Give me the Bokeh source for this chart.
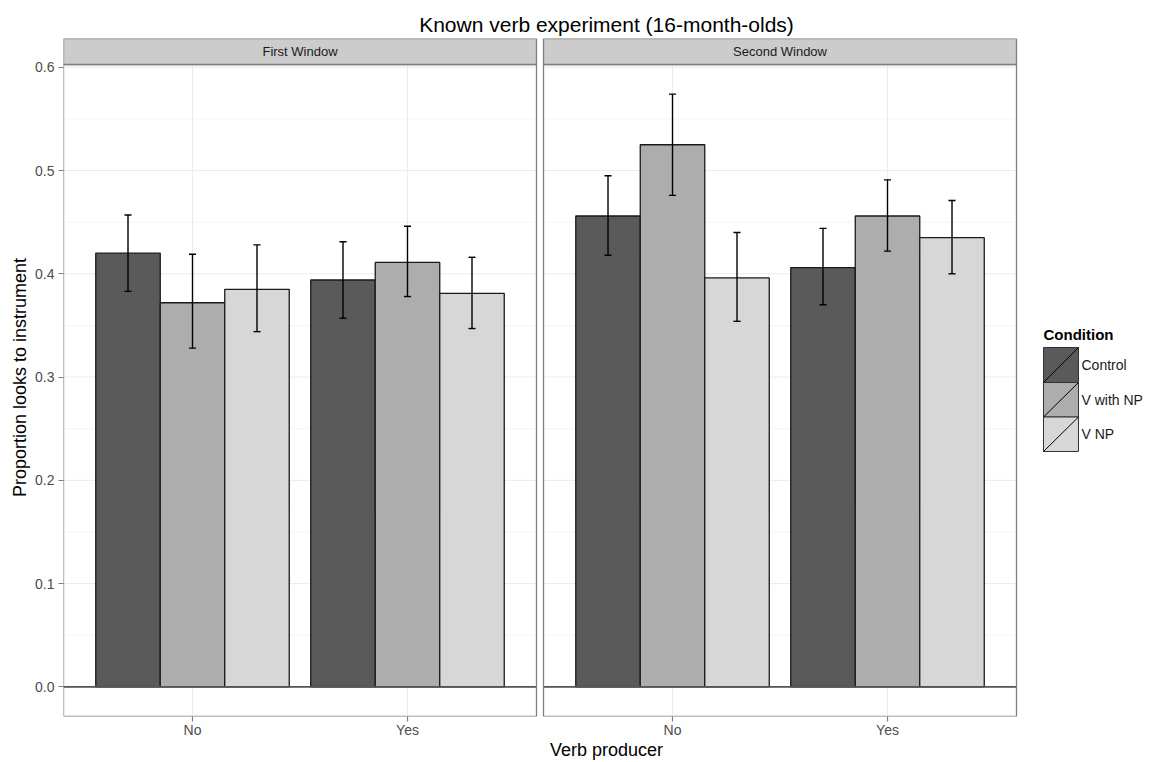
from bokeh.plotting import figure
from bokeh.models import Range1d, FixedTicker, ColumnDataSource, NumeralTickFormatter
from bokeh.core.properties import value
from bokeh.embed import file_html
from bokeh.resources import INLINE

# ---------------- data ----------------
windows = ["First Window", "Second Window"]
producers = ["No", "Yes"]
conditions = ["Control", "V with NP", "V NP"]
fill_colors = ["#5a5a5a", "#adadad", "#d7d7d7"]

# order of values: First-No, First-Yes, Second-No, Second-Yes
control_mean = [0.420, 0.394, 0.456, 0.406]
control_lo = [0.383, 0.357, 0.418, 0.370]
control_hi = [0.457, 0.431, 0.495, 0.444]
vwnp_mean = [0.372, 0.411, 0.525, 0.456]
vwnp_lo = [0.328, 0.378, 0.476, 0.422]
vwnp_hi = [0.419, 0.446, 0.574, 0.491]
vnp_mean = [0.385, 0.381, 0.396, 0.435]
vnp_lo = [0.344, 0.347, 0.354, 0.400]
vnp_hi = [0.428, 0.416, 0.440, 0.471]

y_ticks = [0.0, 0.1, 0.2, 0.3, 0.4, 0.5, 0.6]
y_minor = [0.05, 0.15, 0.25, 0.35, 0.45, 0.55]

means = [control_mean, vwnp_mean, vnp_mean]
los = [control_lo, vwnp_lo, vnp_lo]
his = [control_hi, vwnp_hi, vnp_hi]

# ---------------- geometry ----------------
W, H = 1149, 762
FL, FR, FT, FB = 63, 1149, 38, 716      # frame edges in px
PXX = 215.0                              # px per x unit
X0 = 0.4
PANEL_UNITS = 2.2
OFF = round(PANEL_UNITS + 7 / PXX, 4)    # x offset of second panel
YMIN, YMAX = -0.0287, 0.6027             # panel limits
PANEL_TOP_PX = 64
PXY = (FB - PANEL_TOP_PX) / (YMAX - YMIN)
Y_TOP = YMAX + (PANEL_TOP_PX - FT) / PXY
X_END = X0 + (FR - FL) / PXX


def px2x(px):
    return X0 + (px - FL) / PXX


def px2y(py):
    return YMIN + (FB - py) / PXY


FONT = "Liberation Sans"
BAR_W = 0.3
DODGE = 0.3

p = figure(width=W, height=H, output_backend="svg", toolbar_location=None,
           x_range=Range1d(X0, X_END), y_range=Range1d(YMIN, Y_TOP),
           min_border_left=FL, min_border_right=W - FR, min_border_top=FT,
           min_border_bottom=H - FB)
p.outline_line_color = None
p.xgrid.visible = False
p.ygrid.visible = False
p.background_fill_color = "white"
p.border_fill_color = "white"

# title
p.title.text = "Known verb experiment (16-month-olds)"
p.title.align = "center"
p.title.text_font = FONT
p.title.text_font_size = "21px"
p.title.text_font_style = "normal"
p.title.text_color = "black"
p.title.standoff = 6

panel_left = [X0 + k * OFF for k in range(2)]
panel_right = [X0 + PANEL_UNITS + k * OFF for k in range(2)]

# panel backgrounds
p.quad(left=panel_left, right=panel_right, bottom=[YMIN] * 2, top=[YMAX] * 2,
       fill_color="white", line_color=None)

# grid lines
for k in range(2):
    L, R = panel_left[k], panel_right[k]
    p.segment(x0=[L] * len(y_minor), x1=[R] * len(y_minor), y0=y_minor, y1=y_minor,
              line_color="#f4f4f4", line_width=1)
    p.segment(x0=[L] * len(y_ticks), x1=[R] * len(y_ticks), y0=y_ticks, y1=y_ticks,
              line_color="#ebebeb", line_width=1)
    xs = [k * OFF + j + 1 for j in range(len(producers))]
    p.segment(x0=xs, x1=xs, y0=[YMIN] * len(xs), y1=[YMAX] * len(xs),
              line_color="#ebebeb", line_width=1)

# bars
for c, cond in enumerate(conditions):
    xs, tops, lo, hi = [], [], [], []
    for k in range(2):
        for j in range(2):
            idx = k * 2 + j
            xs.append(k * OFF + (j + 1) + (c - 1) * DODGE)
            tops.append(means[c][idx])
            lo.append(los[c][idx])
            hi.append(his[c][idx])
    src = ColumnDataSource(dict(x=xs, top=tops, lo=lo, hi=hi,
                                cl=[x - 0.0165 for x in xs], cr=[x + 0.0165 for x in xs]))
    p.vbar(x="x", top="top", bottom=0, width=BAR_W, source=src,
           fill_color=fill_colors[c], line_color="#1a1a1a", line_width=1.3)
    p.segment(x0="x", x1="x", y0="lo", y1="hi", source=src, line_color="black", line_width=1.4)
    p.segment(x0="cl", x1="cr", y0="lo", y1="lo", source=src, line_color="black", line_width=1.4)
    p.segment(x0="cl", x1="cr", y0="hi", y1="hi", source=src, line_color="black", line_width=1.4)

# zero line
p.segment(x0=panel_left, x1=panel_right, y0=[0, 0], y1=[0, 0], line_color="#555555", line_width=1.8)

# panel borders
p.quad(left=panel_left, right=panel_right, bottom=[YMIN] * 2, top=[YMAX] * 2,
       fill_color=None, line_color="#808080", line_width=1.3)

# strips
p.quad(left=panel_left, right=panel_right, bottom=[YMAX] * 2, top=[Y_TOP] * 2,
       fill_color="#cccccc", line_color="#808080", line_width=1.3)
p.text(x=[(panel_left[k] + panel_right[k]) / 2 for k in range(2)],
       y=[(YMAX + Y_TOP) / 2] * 2, text=windows,
       text_font=value(FONT), text_font_size="13px", text_color="#1a1a1a",
       text_align="center", text_baseline="middle")

# legend (manual, keys with diagonal stroke)
key_l, key_r = px2x(1043), px2x(1078)
key_edges = [347, 382, 416.5, 451]
kb = [px2y(key_edges[i + 1]) for i in range(3)]
kt = [px2y(key_edges[i]) for i in range(3)]
p.quad(left=[key_l] * 3, right=[key_r] * 3, bottom=kb, top=kt,
       fill_color=fill_colors, line_color="#333333", line_width=1)
p.segment(x0=[key_l] * 3, x1=[key_r] * 3, y0=kb, y1=kt, line_color="black", line_width=1)
p.text(x=[px2x(1081)] * 3, y=[(kb[i] + kt[i]) / 2 for i in range(3)], text=conditions,
       text_font=value(FONT), text_font_size="14px", text_color="#1a1a1a",
       text_align="left", text_baseline="middle")
p.text(x=[px2x(1043)], y=[px2y(334)], text=["Condition"],
       text_font=value(FONT), text_font_size="15px", text_font_style="bold",
       text_color="black", text_align="left", text_baseline="middle")

# axes
ya = p.yaxis[0]
ya.ticker = FixedTicker(ticks=y_ticks)
ya.formatter = NumeralTickFormatter(format="0.0")
ya.axis_label = "Proportion looks to instrument"
xa = p.xaxis[0]
x_tick_vals = [k * OFF + j + 1 for k in range(2) for j in range(len(producers))]
xa.ticker = FixedTicker(ticks=x_tick_vals)
xa.major_label_overrides = {v: producers[i % 2] for i, v in enumerate(x_tick_vals)}
xa.axis_label = "Verb producer"
for ax in (xa, ya):
    ax.axis_line_color = None
    ax.major_tick_line_color = "#7f7f7f"
    ax.major_tick_line_width = 1.2
    ax.major_tick_out = 5
    ax.major_tick_in = 0
    ax.minor_tick_line_color = None
    ax.major_label_text_font = FONT
    ax.major_label_text_font_size = "14px"
    ax.major_label_text_color = "#4d4d4d"
    ax.axis_label_text_font = FONT
    ax.axis_label_text_font_size = "18px"
    ax.axis_label_text_font_style = "normal"
    ax.axis_label_text_color = "black"
xa.major_label_standoff = 0
xa.axis_label_standoff = -1
ya.major_label_standoff = 4
ya.axis_label_standoff = 2

open("out.html", "w").write(file_html(p, INLINE))
